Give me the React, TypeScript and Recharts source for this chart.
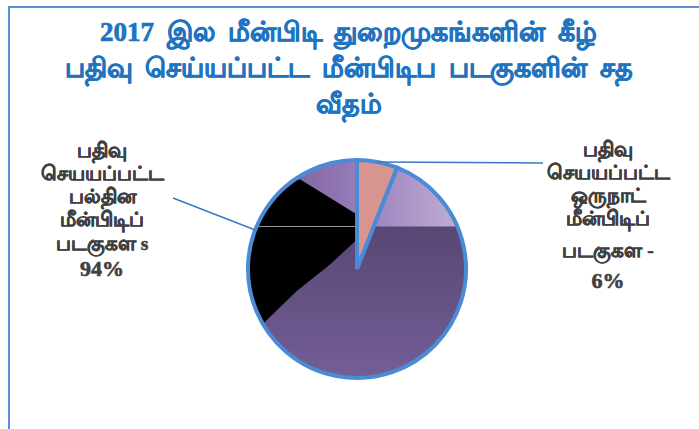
import { PieChart, Pie, Sector } from "recharts";

// slice data (percent of registered fishing boats, 2017)
const sliceNames = ["ஒருநாள்", "பல்தின"];
const sliceValues = [6, 94];
const sliceColors = ["#d8958f", "#5e4c80"];

const titleLines = [
  "2017 இல மீன்பிடி துறைமுகங்களின் கீழ்",
  "பதிவு செய்யப்பட்ட மீன்பிடிப படகுகளின் சத",
  "வீதம்",
];

const labelLines = [
  ["பதிவு", "செயயப்பட்ட", "ஒருநாட்", "மீன்பிடிப்", "படகுகள -", "6%"],
  ["பதிவு", "செயயப்பட்ட", "பல்தின", "மீன்பிடிப்", "படகுகள s", "94%"],
];

const data = sliceNames.map((name, i) => ({ name, value: sliceValues[i] }));

const W = 699;
const H = 429;
const CX = 357;
const CY = 269;
const R = 109;
const STROKE = "#4a8bd6";
const RAD = Math.PI / 180;

// where each label block sits and which edge angle its leader starts from
const labelBox = [
  { x: 608, rows: [152, 175, 198, 221, 253, 283], lineEnd: [543, 163], angle: 79 },
  { x: 102, rows: [153, 176, 199, 222, 246, 271], lineEnd: [173, 198], angle: 159 },
];

// big slice is filled the way the source image rendered it (banded)
function SliceShape(props: any) {
  const { cx, cy, outerRadius, startAngle, endAngle, index, fill } = props;
  const r = outerRadius;
  const common = { cx, cy, innerRadius: 0, outerRadius: r, startAngle, endAngle };
  if (index !== 1) {
    return (
      <g>
        <Sector {...common} fill={fill} stroke={STROKE} strokeWidth={4} />
      </g>
    );
  }
  const p = (x: number, y: number) => `${cx + x * r},${cy + y * r}`;
  const band = cy - 0.39 * r;
  const black = [
    p(0, -0.5),
    p(-0.52, -0.82),
    p(-1.2, -0.82),
    p(-1.2, 0.6),
    p(-0.86, 0.5),
    p(-0.55, 0.2),
    p(-0.25, -0.04),
    p(0, -0.27),
  ].join(" ");
  return (
    <g>
      <defs>
        <clipPath id="bigClip">
          <Sector {...common} />
        </clipPath>
        <linearGradient id="bigBase" x1="0" y1="0" x2="0" y2="1">
          <stop offset="0%" stopColor="#4c3d66" />
          <stop offset="100%" stopColor="#735e96" />
        </linearGradient>
        <linearGradient id="bigTop" x1="0" y1="0" x2="1" y2="0">
          <stop offset="0%" stopColor="#6e558f" />
          <stop offset="45%" stopColor="#9378b6" />
          <stop offset="100%" stopColor="#c2b1d8" />
        </linearGradient>
      </defs>
      <g clipPath="url(#bigClip)">
        <rect x={cx - r} y={cy - r} width={2 * r} height={2 * r} fill="url(#bigBase)" />
        <rect x={cx - r} y={cy - r} width={2 * r} height={band - (cy - r)} fill="url(#bigTop)" />
        <polygon points={black} fill="#000" />
        <line x1={cx - r} y1={band} x2={cx} y2={band} stroke="#9a9a9a" strokeWidth={1} />
      </g>
      <Sector {...common} fill="none" stroke={STROKE} strokeWidth={4} />
    </g>
  );
}

function renderLabel(props: any) {
  const { cx, cy, outerRadius, index } = props;
  const box = labelBox[index];
  const sx = cx + outerRadius * Math.cos(box.angle * RAD);
  const sy = cy - outerRadius * Math.sin(box.angle * RAD);
  const lines = labelLines[index];
  return (
    <g key={`lbl-${index}`}>
      <line x1={sx} y1={sy} x2={box.lineEnd[0]} y2={box.lineEnd[1]} stroke="#3b78c4" strokeWidth={1.5} />
      {lines.map((t, i) => {
        const last = i === lines.length - 1;
        return (
          <text
            key={i}
            x={box.x}
            y={box.rows[i]}
            textAnchor="middle"
            dominantBaseline="middle"
            fill="#404040"
            stroke="#404040"
            strokeWidth={last ? 0.6 : 0.55}
            fontWeight="bold"
            fontSize={last ? 22 : 19.5}
            fontFamily="'Liberation Serif', serif"
          >
            {t}
          </text>
        );
      })}
    </g>
  );
}

export default function App() {
  return (
    <div style={{ position: "relative", width: W, height: H, overflow: "hidden", background: "#fff" }}>
      <style>{`body{margin:0}`}</style>
      <div
        style={{
          position: "absolute",
          left: 8,
          top: 6,
          width: 900,
          height: 600,
          borderTop: "2px solid #5b8fd9",
          borderLeft: "2px solid #5b8fd9",
        }}
      />
      <div
        style={{
          position: "absolute",
          left: 0,
          top: 14,
          width: W - 2,
          textAlign: "center",
          color: "#1f74c1",
          fontWeight: "bold",
          fontSize: 27,
          lineHeight: "36px",
          wordSpacing: 6,
          WebkitTextStroke: "0.7px #1f74c1",
          fontFamily: "'Liberation Serif', serif",
        }}
      >
        {titleLines.map((t) => (
          <div key={t}>{t}</div>
        ))}
      </div>
      <div style={{ position: "absolute", left: 0, top: 0 }}>
        <PieChart width={W} height={H} margin={{ top: 0, right: 0, bottom: 0, left: 0 }}>
          <Pie
            data={data}
            dataKey="value"
            nameKey="name"
            cx={CX}
            cy={CY}
            outerRadius={R}
            startAngle={90}
            endAngle={-270}
            stroke={STROKE}
            strokeWidth={4}
            isAnimationActive={false}
            shape={(p: any) => <SliceShape {...p} fill={sliceColors[p.index]} />}
            label={renderLabel}
            labelLine={false}
          />
        </PieChart>
      </div>
    </div>
  );
}
